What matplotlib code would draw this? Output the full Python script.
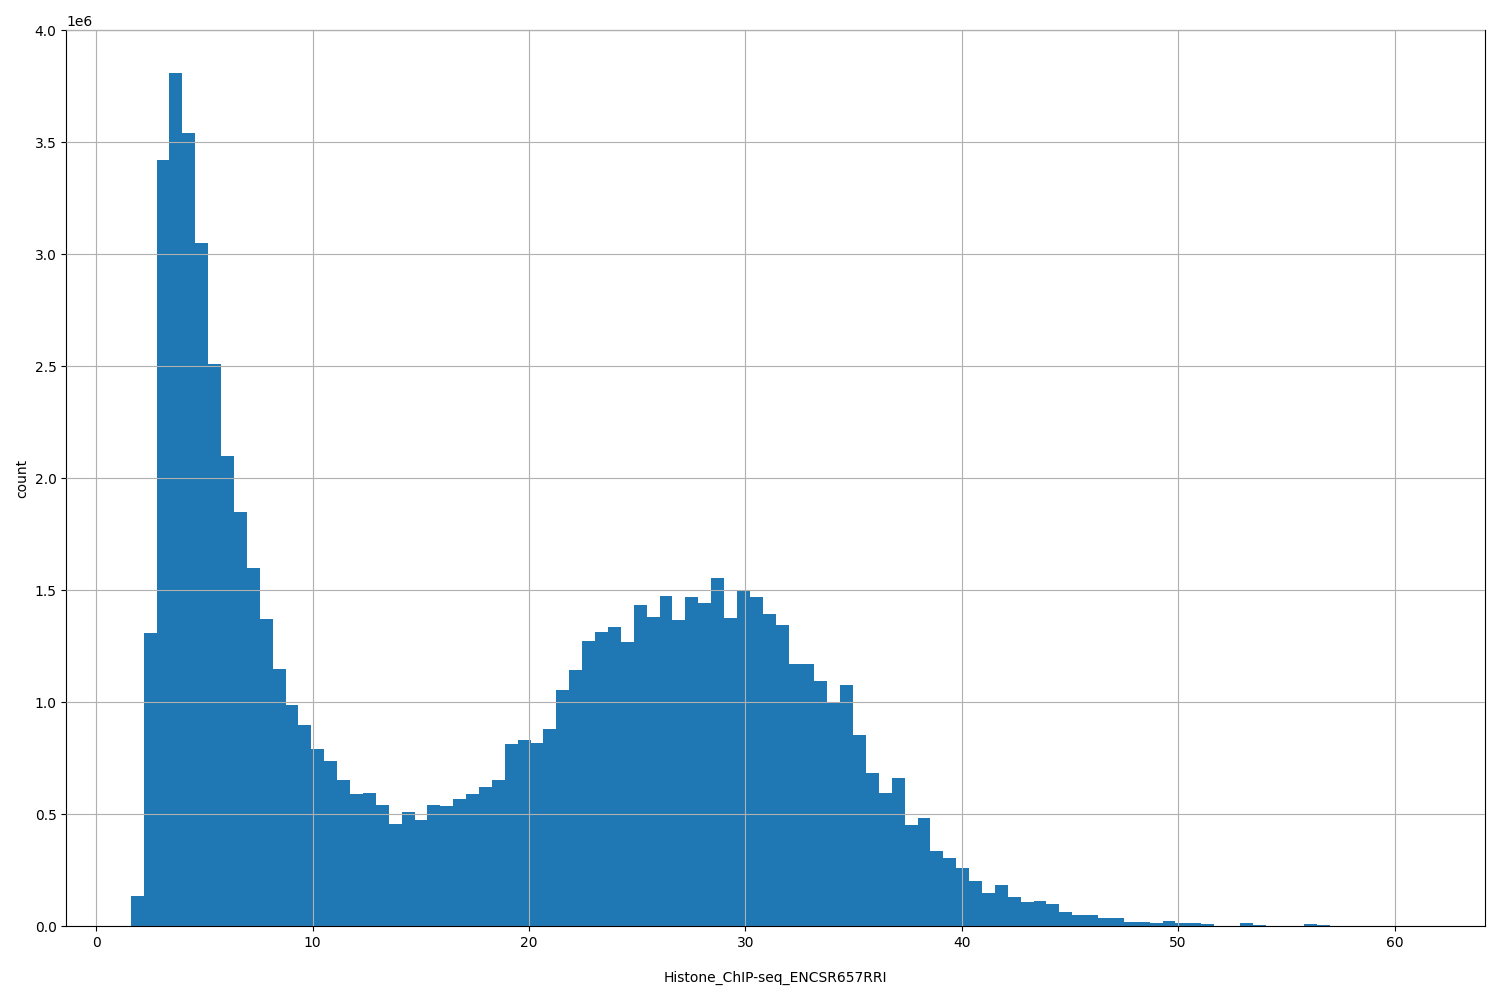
import matplotlib
matplotlib.use("Agg")
import matplotlib.pyplot as plt
import numpy as np

# bin range
x_min, x_max, n_bins = 1.6, 61.2, 100

# counts per bin (x1e6)
counts = [
    0.135, 1.31, 3.42, 3.81, 3.54, 3.05, 2.51, 2.10, 1.85, 1.60,
    1.37, 1.15, 0.99, 0.90, 0.79, 0.74, 0.655, 0.59, 0.595, 0.54,
    0.455, 0.51, 0.475, 0.54, 0.535, 0.57, 0.59, 0.62, 0.655, 0.815,
    0.83, 0.82, 0.88, 1.055, 1.145, 1.275, 1.315, 1.335, 1.27, 1.435,
    1.38, 1.475, 1.365, 1.47, 1.445, 1.555, 1.375, 1.50, 1.47, 1.395,
    1.345, 1.17, 1.17, 1.095, 1.0, 1.075, 0.855, 0.685, 0.595, 0.66,
    0.45, 0.485, 0.335, 0.305, 0.26, 0.20, 0.15, 0.185, 0.13, 0.11,
    0.115, 0.10, 0.065, 0.05, 0.05, 0.035, 0.035, 0.02, 0.02, 0.015,
    0.022, 0.015, 0.015, 0.01, 0.002, 0.002, 0.013, 0.005, 0.001, 0.001,
    0.001, 0.01, 0.004, 0.001, 0.0005, 0.0005, 0.0005, 0.0003, 0.0003, 0.0003,
]
counts = np.array(counts) * 1e6

edges = np.linspace(x_min, x_max, n_bins + 1)
centers = (edges[:-1] + edges[1:]) / 2

fig, ax = plt.subplots(figsize=(15, 10), dpi=100)
ax.hist(centers, bins=edges, weights=counts, color="#1f77b4")
ax.grid(True)
ax.set_axisbelow(False)
ax.set_ylim(0, 4.0e6)
ax.set_xlabel("Histone_ChIP-seq_ENCSR657RRI", labelpad=15)
ax.set_ylabel("count")
plt.tight_layout()
plt.savefig("out.png")
